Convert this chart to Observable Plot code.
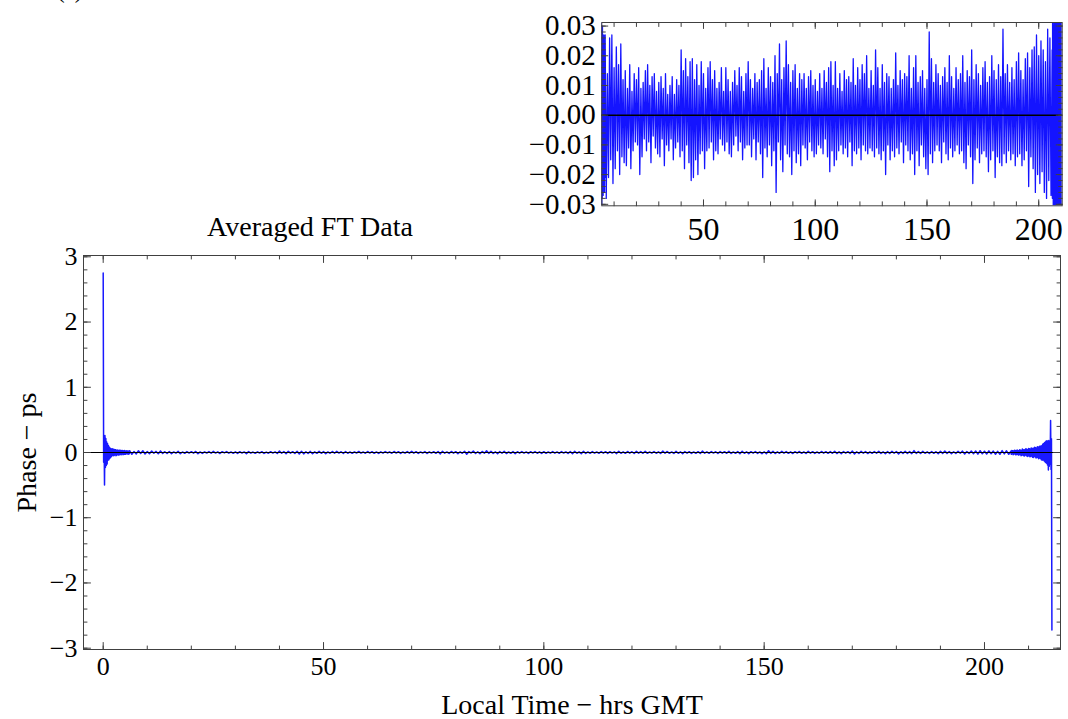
<!DOCTYPE html>
<html>
<head>
<meta charset="utf-8">
<script src="https://cdn.jsdelivr.net/npm/d3@7"></script>
<script src="https://cdn.jsdelivr.net/npm/@observablehq/plot@0.6"></script>
<style>
  html, body { margin: 0; padding: 0; background: #fff; }
  body { width: 1068px; height: 719px; position: relative; overflow: hidden;
         font-family: "Liberation Serif", "Times New Roman", serif; color: #000; }
  #tag { position: absolute; left: 57px; top: -21px; font-size: 23px; line-height: 1; }
  #title { position: absolute; left: 310px; top: 213px; transform: translateX(-50%);
           font-size: 28px; line-height: 1; white-space: nowrap; }
  #main { position: absolute; left: 0; top: 240px; }
  #inset { position: absolute; left: 500px; top: 0; }
</style>
</head>
<body>
<div id="tag">(a)</div>
<div id="title">Averaged FT Data</div>
<div id="main"></div>
<div id="inset"></div>
<script>
// Averaged FT phase in femtoseconds.
// Start-up transient: one sample every 0.1 h from 0 h.
const ringStartFs = [
  2750, -150, 200, -500, 260, -230, 215, -200, 160, -175,
  135, -120, 105, -110, 82, -90, 66, -72, 58, -62,
  52, -44, 58, -50, 38, -47, 45, -36, 41, -48,
  33, -42, 38, -29, 36, -40, 28, -35, 37, -30,
  26, -34, 31, -24, 29, -33, 22, -28, 30, -26,
  21, -27, 25, -19, 27, -23, 18, -26, 24, -21
];
// Steady part: one sample every 0.5 h from 6 h.
const noiseFs = [
  27, -28, 14, -21, 26, -15, 27, -23,
  16, -18, 23, -12, 17, -20, 24, -14, 12, -16,
  15, -17, 9, -11, 17, -18, 8, -12, 14, -9,
  12, -10, 16, -20, 9, -14, 11, -8, 15, -12,
  17, -9, 10, -16, 13, -7, 14, -11, 8, -13,
  11, -14, 13, -8, 9, -17, 14, -10, 7, -12,
  10, -8, 13, -15, 7, -11, 12, -9, 10, -14,
  22, -12, 15, -18, 19, -10, 13, -16, 18, -22,
  19, -21, 12, -15, 17, -20, 10, -13, 18, -12,
  14, -18, 9, -12, 16, -11, 18, -9, 12, -15,
  15, -12, 9, -13, 11, -8, 16, -10, 8, -12,
  16, -9, 12, -13, 8, -14, 11, -10, 15, -7,
  10, -12, 16, -9, 13, -15, 8, -11, 14, -10,
  18, -10, 12, -14, 9, -8, 14, -15, 11, -9,
  12, -13, 15, -21, 19, -11, 9, -14, 16, -10,
  13, -17, 11, -12, 20, -26, 14, -9, 24, -15,
  12, -19, 16, -10, 25, -13, 17, -14, 11, -20,
  15, -12, 17, -16, 9, -13, 14, -17, 12, -10,
  14, -11, 9, -15, 13, -9, 15, -12, 10, -14,
  12, -13, 8, -10, 14, -11, 9, -13, 15, -8,
  11, -14, 16, -19, 18, -12, 10, -17, 18, -15,
  9, -12, 14, -10, 8, -13, 15, -11, 12, -14,
  13, -9, 11, -17, 19, -12, 10, -13, 16, -11,
  12, -15, 17, -10, 14, -12, 20, -13, 9, -11,
  15, -12, 10, -14, 22, -11, 16, -13, 9, -15,
  17, -12, 11, -20, 14, -10, 13, -15, 9, -12,
  12, -14, 21, -11, 10, -13, 15, -9, 12, -16,
  14, -10, 13, -12, 20, -15, 9, -13, 16, -20,
  20, -12, 11, -17, 13, -10, 15, -14, 9, -18,
  12, -20, 28, -13, 19, -16, 11, -12, 17, -10,
  14, -12, 10, -16, 13, -9, 16, -13, 11, -15,
  20, -11, 13, -14, 9, -12, 16, -10, 12, -13,
  14, -12, 20, -16, 11, -18, 15, -10, 13, -14,
  22, -23, 12, -15, 17, -11, 14, -16, 10, -13,
  16, -12, 18, -14, 11, -19, 13, -15, 20, -12,
  15, -21, 12, -14, 17, -16, 13, -17, 29, -13,
  14, -16, 17, -12, 11, -15, 16, -13, 12, -17,
  18, -14, 21, -13, 15, -17, 12, -15, 19, -12,
  21, -24, 16, -14, 22, -18, 23, -26, 27, -20,
  20, -23, 25, -19, 22, -26, 18, -28, 29, -22,
  26, -27
];
// Closing transient: one sample every 0.1 h from 206 h.
const ringEndFs = [
  22, -28, 31, -19, 26, -33, 24, -27, 35, -21,
  29, -36, 22, -30, 38, -25, 31, -40, 27, -34,
  44, -31, 36, -48, 30, -42, 55, -37, 41, -50,
  38, -52, 47, -40, 58, -45, 50, -61, 43, -55,
  62, -48, 57, -66, 51, -60, 70, -54, 64, -72,
  58, -75, 68, -62, 80, -70, 74, -85, 66, -78,
  88, -76, 82, -95, 90, -84, 100, -92, 96, -110,
  105, -118, 125, -110, 135, -128, 150, -140, 160, -155,
  175, -165, 180, -190, 170, -270, 185, -210, 160, -180,
  490, -260, 210, -2720
];
const segments = [
  {startHour: 0, stepHours: 0.1, values: ringStartFs},
  {startHour: 6, stepHours: 0.5, values: noiseFs},
  {startHour: 206, stepHours: 0.1, values: ringEndFs}
];

// Tick values and labels
const mainXTicks = [0, 50, 100, 150, 200];
const mainYTicks = [-3, -2, -1, 0, 1, 2, 3];
const insetXTicks = [50, 100, 150, 200];
const insetYTicks = [-0.03, -0.02, -0.01, 0, 0.01, 0.02, 0.03];

const mainXMinor = d3.range(0, 220, 10);
const mainYMinor = d3.range(-30, 31, 2).map(d => d / 10);
const insetXMinor = d3.range(10, 210, 10);
const insetYMinor = d3.range(-15, 16, 1).map(d => d / 500);

const series = segments.flatMap(s =>
  s.values.map((fs, i) => ({hour: s.startHour + i * s.stepHours, ps: fs / 1000})));

const frameColor = "#404040";
const lineBlue = "#0000ff";
const serif = "'Liberation Serif', 'Times New Roman', serif";

// a short inward tick drawn as a vector
const tickShape = {draw(ctx, l) { ctx.moveTo(0, 0); ctx.lineTo(0, -l); }};

function frameTicks(xs, ys, xLen, yLen) {
  const common = {shape: tickShape, anchor: "start", stroke: frameColor, strokeWidth: 1};
  return [
    Plot.vector(xs, {...common, x: d => d, frameAnchor: "bottom", rotate: 0, length: xLen}),
    Plot.vector(xs, {...common, x: d => d, frameAnchor: "top", rotate: 180, length: xLen}),
    Plot.vector(ys, {...common, y: d => d, frameAnchor: "left", rotate: 90, length: yLen}),
    Plot.vector(ys, {...common, y: d => d, frameAnchor: "right", rotate: -90, length: yLen})
  ];
}

const main = Plot.plot({
  width: 1068,
  height: 479,
  marginLeft: 83,
  marginRight: 8,
  marginTop: 15,
  marginBottom: 70,
  style: {fontFamily: serif, color: "#000", background: "transparent"},
  x: {domain: [-4.47, 217.25]},
  y: {domain: [-3.02, 3.02]},
  marks: [
    Plot.line(series, {x: "hour", y: "ps", stroke: lineBlue, strokeWidth: 1.5, strokeOpacity: 0.9, clip: true}),
    Plot.ruleY([0], {stroke: "#000", strokeWidth: 1}),
    ...frameTicks(mainXMinor, mainYMinor, 3.5, 3.5),
    ...frameTicks(mainXTicks, mainYTicks, 7, 7),
    Plot.frame({stroke: frameColor, strokeWidth: 1}),
    Plot.axisX({ticks: mainXTicks, tickSize: 0, tickPadding: 7, fontSize: 26, label: null,
                tickFormat: d3.format("d")}),
    Plot.axisY({ticks: mainYTicks, tickSize: 0, tickPadding: 6, fontSize: 26, label: null,
                tickFormat: d3.format("d")}),
    Plot.text(["Local Time − hrs GMT"], {text: d => d, frameAnchor: "bottom", lineAnchor: "bottom",
              textAnchor: "middle", dy: 64, fontSize: 28}),
    Plot.text(["Phase − ps"], {text: d => d, frameAnchor: "left", textAnchor: "middle",
              lineAnchor: "middle", dx: -56, rotate: -90, fontSize: 28})
  ]
});
document.getElementById("main").append(main);

const inset = Plot.plot({
  width: 568,
  height: 250,
  marginLeft: 101.3,
  marginRight: 6.3,
  marginTop: 22,
  marginBottom: 44.7,
  style: {fontFamily: serif, color: "#000", background: "transparent"},
  x: {domain: [4.5, 210.5]},
  y: {domain: [-0.0305, 0.0312]},
  marks: [
    Plot.line(series, {x: "hour", y: "ps", stroke: lineBlue, strokeWidth: 1.3, strokeOpacity: 0.92, clip: true}),
    Plot.ruleY([0], {stroke: "#000", strokeWidth: 1.6}),
    ...frameTicks(insetXMinor, insetYMinor, 4, 3.5),
    ...frameTicks(insetXTicks, insetYTicks, 6, 6),
    Plot.frame({stroke: frameColor, strokeWidth: 1}),
    Plot.axisX({ticks: insetXTicks, tickSize: 0, tickPadding: 11, fontSize: 32, label: null}),
    Plot.axisY({ticks: insetYTicks, tickSize: 0, tickPadding: 6, fontSize: 29, label: null,
                tickFormat: d3.format(".2f")})
  ]
});
document.getElementById("inset").append(inset);
</script>
</body>
</html>
